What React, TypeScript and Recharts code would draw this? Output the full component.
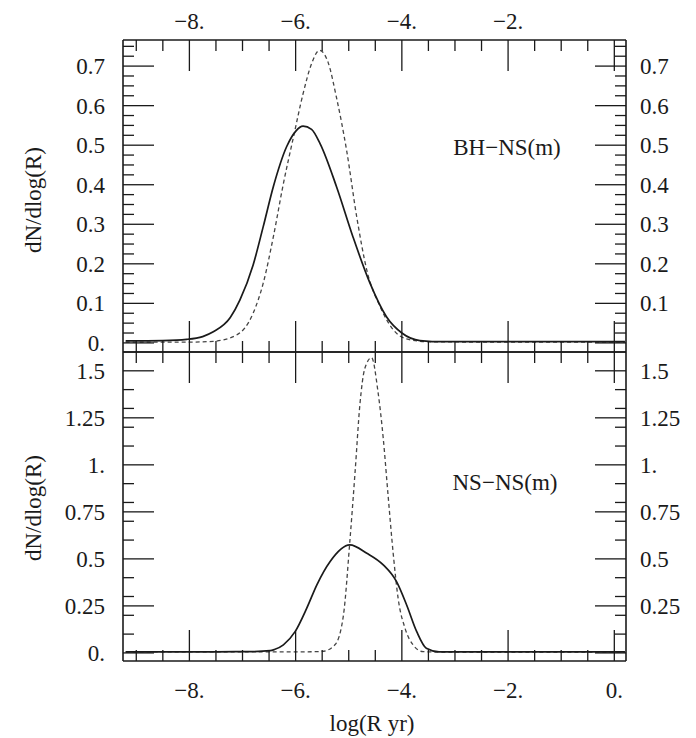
import React from "react";
import { LineChart, Line, XAxis, YAxis } from "recharts";

// x axis (shared by both panels)
const xDomain = [-9.25, 0.22];
const xTicks = [-9, -8.5, -8, -7.5, -7, -6.5, -6, -5.5, -5, -4.5, -4, -3.5, -3, -2.5, -2, -1.5, -1, -0.5, 0];
const xMajor = [-8, -6, -4, -2, 0];
const xMajorLabels = ["\u22128.", "\u22126.", "\u22124.", "\u22122.", "0."];
const xTopShown = [-8, -6, -4, -2];

// upper panel: BH-NS(m)
const bhDomain = [-0.023, 0.766];
const bhMajor = [0, 0.1, 0.2, 0.3, 0.4, 0.5, 0.6, 0.7];
const bhMajorLabels = ["0.", "0.1", "0.2", "0.3", "0.4", "0.5", "0.6", "0.7"];
const bhRightShown = [0.1, 0.2, 0.3, 0.4, 0.5, 0.6, 0.7];

const bhSolidX = [-9.2, -8.5, -8.05, -7.75, -7.55, -7.23, -7.05, -6.8, -6.61, -6.42, -6.17, -6.0, -5.86, -5.7, -5.54, -5.23, -4.92, -4.6, -4.29, -4.0, -3.66, -3.2, -2, 0.2];
const bhSolidY = [0.005, 0.006, 0.009, 0.016, 0.028, 0.064, 0.108, 0.197, 0.294, 0.395, 0.496, 0.535, 0.548, 0.54, 0.504, 0.395, 0.268, 0.151, 0.066, 0.025, 0.006, 0.003, 0.003, 0.003];

const bhDashX = [-9.2, -8, -7.55, -7.11, -6.8, -6.61, -6.42, -6.23, -6.04, -5.86, -5.7, -5.55, -5.39, -5.23, -5.04, -4.85, -4.66, -4.41, -4.16, -3.91, -3.5, -2, 0.2];
const bhDashY = [0.002, 0.002, 0.004, 0.02, 0.075, 0.151, 0.268, 0.403, 0.521, 0.63, 0.706, 0.74, 0.71, 0.62, 0.487, 0.319, 0.184, 0.092, 0.033, 0.01, 0.003, 0.002, 0.002];

// lower panel: NS-NS(m)
const nsDomain = [-0.043, 1.6];
const nsMajor = [0, 0.25, 0.5, 0.75, 1, 1.25, 1.5];
const nsMajorLabels = ["0.", "0.25", "0.5", "0.75", "1.", "1.25", "1.5"];
const nsRightShown = [0.25, 0.5, 0.75, 1, 1.25, 1.5];

const nsSolidX = [-9.2, -7.5, -6.86, -6.48, -6.4, -6.23, -6.01, -5.79, -5.6, -5.35, -4.98, -4.66, -4.35, -4.1, -3.91, -3.72, -3.54, -3.3, -2, 0.2];
const nsSolidY = [0.006, 0.006, 0.007, 0.012, 0.018, 0.043, 0.113, 0.238, 0.362, 0.486, 0.574, 0.53, 0.468, 0.379, 0.255, 0.113, 0.025, 0.006, 0.006, 0.006];

const nsDashX = [-9.2, -6, -5.5, -5.26, -5.1, -4.98, -4.88, -4.79, -4.7, -4.57, -4.45, -4.35, -4.26, -4.16, -4.07, -3.94, -3.79, -3.6, -3.2, 0.2];
const nsDashY = [0.005, 0.005, 0.008, 0.043, 0.2, 0.59, 0.964, 1.32, 1.51, 1.57, 1.39, 1.14, 0.84, 0.52, 0.29, 0.131, 0.043, 0.007, 0.004, 0.004];

const range = (a: number, b: number, s: number) => {
  const out: number[] = [];
  for (let v = a; v <= b + 1e-9; v += s) out.push(Math.round(v * 1000) / 1000);
  return out;
};
const bhTicks = range(0, 0.75, 0.025);
const nsTicks = Array.from(new Set([...range(0, 1.5, 0.1), ...nsMajor])).sort((a, b) => a - b);

const pts = (xs: number[], ys: number[]) => xs.map((x, i) => ({ x, y: ys[i] }));

const FONT = "'Liberation Serif', 'Times New Roman', serif";
const INK = "#1a1a1a";

type Side = "top" | "bottom" | "left" | "right";

function FrameTick(props: any) {
  const { x, y, payload, side, majors, labels, shown } = props as {
    x: number; y: number; payload: { value: number }; side: Side;
    majors: number[]; labels: string[]; shown: number[];
  };
  const v = payload.value;
  const i = majors.findIndex((m) => Math.abs(m - v) < 1e-6);
  const len = i >= 0 ? 31 : 11;
  const label = i >= 0 && shown.some((s) => Math.abs(s - v) < 1e-6) ? labels[i] : "";
  let ln = null;
  let tx = x;
  let ty = y;
  let anchor: "start" | "middle" | "end" = "middle";
  if (side === "bottom") {
    ln = <line x1={x} y1={y} x2={x} y2={y - len} />;
    ty = y + 37;
  } else if (side === "top") {
    ln = <line x1={x} y1={y} x2={x} y2={y + len} />;
    ty = y - 11;
  } else if (side === "left") {
    ln = <line x1={x} y1={y} x2={x + len} y2={y} />;
    tx = x - 18;
    ty = y + 8;
    anchor = "end";
  } else {
    ln = <line x1={x} y1={y} x2={x - len} y2={y} />;
    tx = x + 14;
    ty = y + 8;
    anchor = "start";
  }
  return (
    <g>
      <g stroke={INK} strokeWidth={1.3}>{ln}</g>
      {label && (
        <text x={tx} y={ty} textAnchor={anchor} fontFamily={FONT} fontSize={23} fill={INK}>
          {label}
        </text>
      )}
    </g>
  );
}

const axisLine = { stroke: INK, strokeWidth: 1.6 };

interface PanelProps {
  top: number;
  height: number;
  margin: { top: number; right: number; bottom: number; left: number };
  yDomain: number[];
  yTicks: number[];
  yMajor: number[];
  yLabels: string[];
  yRightShown: number[];
  topShown: number[];
  bottomShown: number[];
  solid: { x: number; y: number }[];
  dashed: { x: number; y: number }[];
}

function Panel(p: PanelProps) {
  return (
    <div style={{ position: "absolute", left: 0, top: p.top }}>
      <LineChart width={696} height={p.height} margin={p.margin}>
        <XAxis
          xAxisId="b" type="number" dataKey="x" domain={xDomain} allowDataOverflow ticks={xTicks}
          interval={0} orientation="bottom" height={1} tickSize={0} tickMargin={0} tickLine={false} axisLine={axisLine}
          tick={(t: any) => <FrameTick {...t} side="bottom" majors={xMajor} labels={xMajorLabels} shown={p.bottomShown} />}
        />
        <XAxis
          xAxisId="t" type="number" dataKey="x" domain={xDomain} allowDataOverflow ticks={xTicks}
          interval={0} orientation="top" height={1} tickSize={0} tickMargin={0} tickLine={false} axisLine={axisLine}
          tick={(t: any) => <FrameTick {...t} side="top" majors={xMajor} labels={xMajorLabels} shown={p.topShown} />}
        />
        <YAxis
          yAxisId="l" type="number" domain={p.yDomain} allowDataOverflow ticks={p.yTicks} interval={0}
          orientation="left" width={1} tickSize={0} tickMargin={0} tickLine={false} axisLine={axisLine}
          tick={(t: any) => <FrameTick {...t} side="left" majors={p.yMajor} labels={p.yLabels} shown={p.yMajor} />}
        />
        <YAxis
          yAxisId="r" type="number" domain={p.yDomain} allowDataOverflow ticks={p.yTicks} interval={0}
          orientation="right" width={1} tickSize={0} tickMargin={0} tickLine={false} axisLine={axisLine}
          tick={(t: any) => <FrameTick {...t} side="right" majors={p.yMajor} labels={p.yLabels} shown={p.yRightShown} />}
        />
        <Line
          xAxisId="b" yAxisId="l" data={p.dashed} dataKey="y" type="monotone" stroke="#444"
          strokeWidth={1.3} strokeDasharray="4 3" dot={false} isAnimationActive={false}
        />
        <Line
          xAxisId="b" yAxisId="l" data={p.solid} dataKey="y" type="monotone" stroke={INK}
          strokeWidth={1.7} dot={false} isAnimationActive={false}
        />
      </LineChart>
    </div>
  );
}

const textStyle: React.CSSProperties = {
  position: "absolute",
  fontFamily: FONT,
  fontSize: 23,
  color: INK,
  whiteSpace: "nowrap",
  lineHeight: 1,
};

export default function App() {
  return (
    <div style={{ position: "absolute", left: 0, top: 0, width: 696, height: 738, background: "#fff", overflow: "hidden" }}>
      <Panel
        top={0}
        height={358}
        margin={{ top: 39, right: 69, bottom: 5, left: 122 }}
        yDomain={bhDomain}
        yTicks={bhTicks}
        yMajor={bhMajor}
        yLabels={bhMajorLabels}
        yRightShown={bhRightShown}
        topShown={xTopShown}
        bottomShown={[]}
        solid={pts(bhSolidX, bhSolidY)}
        dashed={pts(bhDashX, bhDashY)}
      />
      <Panel
        top={346}
        height={392}
        margin={{ top: 5, right: 69, bottom: 76, left: 122 }}
        yDomain={nsDomain}
        yTicks={nsTicks}
        yMajor={nsMajor}
        yLabels={nsMajorLabels}
        yRightShown={nsRightShown}
        topShown={[]}
        bottomShown={xMajor}
        solid={pts(nsSolidX, nsSolidY)}
        dashed={pts(nsDashX, nsDashY)}
      />
      <div style={{ ...textStyle, left: 507, top: 147, transform: "translate(-50%, -50%)" }}>BH{"\u2212"}NS(m)</div>
      <div style={{ ...textStyle, left: 505, top: 482, transform: "translate(-50%, -50%)" }}>NS{"\u2212"}NS(m)</div>
      <div style={{ ...textStyle, left: 33, top: 200, transform: "translate(-50%, -50%) rotate(-90deg)" }}>dN/dlog(R)</div>
      <div style={{ ...textStyle, left: 33, top: 508, transform: "translate(-50%, -50%) rotate(-90deg)" }}>dN/dlog(R)</div>
      <div style={{ ...textStyle, left: 372, top: 723, transform: "translate(-50%, -50%)" }}>log(R yr)</div>
    </div>
  );
}
